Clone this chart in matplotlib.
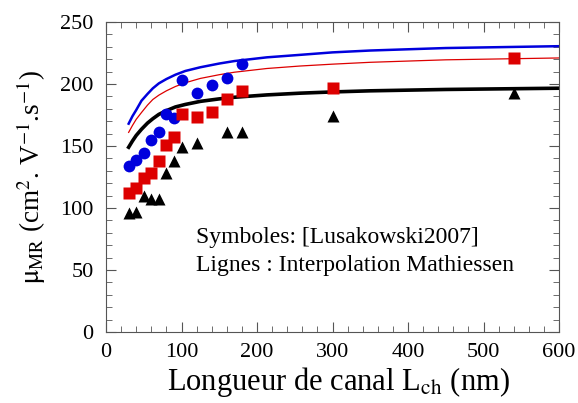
import matplotlib.pyplot as plt
from matplotlib.ticker import MultipleLocator

# data
L_circles = [30, 40, 50, 60, 70, 80, 90, 100, 120, 140, 160, 180]
mu_circles = [133.5, 138.5, 144.5, 154.5, 161, 175.5, 172.5, 203, 192.5, 199, 204.5, 216]

L_squares = [30, 40, 50, 60, 70, 80, 90, 100, 120, 140, 160, 180, 300, 540]
mu_squares = [112, 116, 124, 128, 138, 150.5, 157, 175.5, 173.5, 177.5, 188, 194, 196.5, 221]

L_triangles = [30, 40, 50, 60, 70, 80, 90, 100, 120, 160, 180, 300, 540]
mu_triangles = [96, 97, 110, 107, 107, 128, 138, 149, 152.5, 161, 161, 174, 192.5]

# Mathiessen interpolation curves
L_lines = [30, 35, 40, 47, 55, 62, 70, 80, 92, 105, 125, 150, 170, 213, 257, 300, 350, 450, 600]
mu_blue = [168, 174, 179, 186.5, 192, 196.5, 200.5, 204, 207.5, 210.5, 213.5, 216.5, 218.5,
           221.5, 223.5, 225.5, 227, 229, 230.5]
mu_red = [161, 166.5, 171.5, 177, 183, 187.5, 191, 194.5, 198, 201, 204.5, 207.5, 209.5,
          212.5, 214.5, 216, 217.5, 219.5, 221]
mu_black = [149, 154, 158.5, 163.5, 168.5, 172, 175.5, 178.5, 181.5, 183.5, 186, 188, 189.3,
            191.2, 192.6, 193.6, 194.5, 195.6, 196.6]

plt.rcParams['font.family'] = ['Liberation Serif', 'DejaVu Serif']
plt.rcParams['mathtext.fontset'] = 'stix'

fig = plt.figure(figsize=(5.78, 4.03), dpi=100)
ax = fig.add_axes([106 / 578, 1 - 332 / 403, 453 / 578, 310 / 403])

ax.plot(L_lines, mu_blue, color='#0000dd', lw=1.8)
ax.plot(L_lines, mu_red, color='#dd0000', lw=0.9)
ax.plot(L_lines, mu_black, color='black', lw=2.6)

ax.plot(L_circles, mu_circles, 'o', color='#0000dd', ms=8.5, mec='none')
ax.plot(L_squares, mu_squares, 's', color='#dd0000', ms=8.5, mec='none')
ax.plot(L_triangles, mu_triangles, '^', color='black', ms=8, mec='none')

ax.set_xlim(0, 600)
ax.set_ylim(0, 250)
ax.xaxis.set_major_locator(MultipleLocator(100))
ax.xaxis.set_minor_locator(MultipleLocator(20))
ax.yaxis.set_major_locator(MultipleLocator(50))
ax.yaxis.set_minor_locator(MultipleLocator(10))
ax.tick_params(which='both', direction='in', top=True, right=True, labelsize=16,
               color='#555555')
ax.tick_params(axis='x', pad=8)
ax.tick_params(axis='y', pad=9)
ax.tick_params(which='major', length=7)
ax.tick_params(which='minor', length=4)
for s in ax.spines.values():
    s.set_color('#555555')

ax.set_xlabel(r'Longueur de canal L$_{\mathrm{ch}}$ (nm)', fontsize=22)
ax.xaxis.set_label_coords(0.513, -0.105, transform=ax.transAxes)
ax.xaxis.label.set_va('top')
ax.set_ylabel(r'$\mathrm{\mu}_{\mathrm{MR}}$ (cm$^{2}$. V$^{-1}$.s$^{-1}$)', fontsize=19.5, labelpad=9)

ax.text(119, 76, 'Symboles: [Lusakowski2007]', fontsize=17, va='center')
ax.text(119, 54, 'Lignes : Interpolation Mathiessen', fontsize=17, va='center')

fig.savefig('out.png', dpi=100)
